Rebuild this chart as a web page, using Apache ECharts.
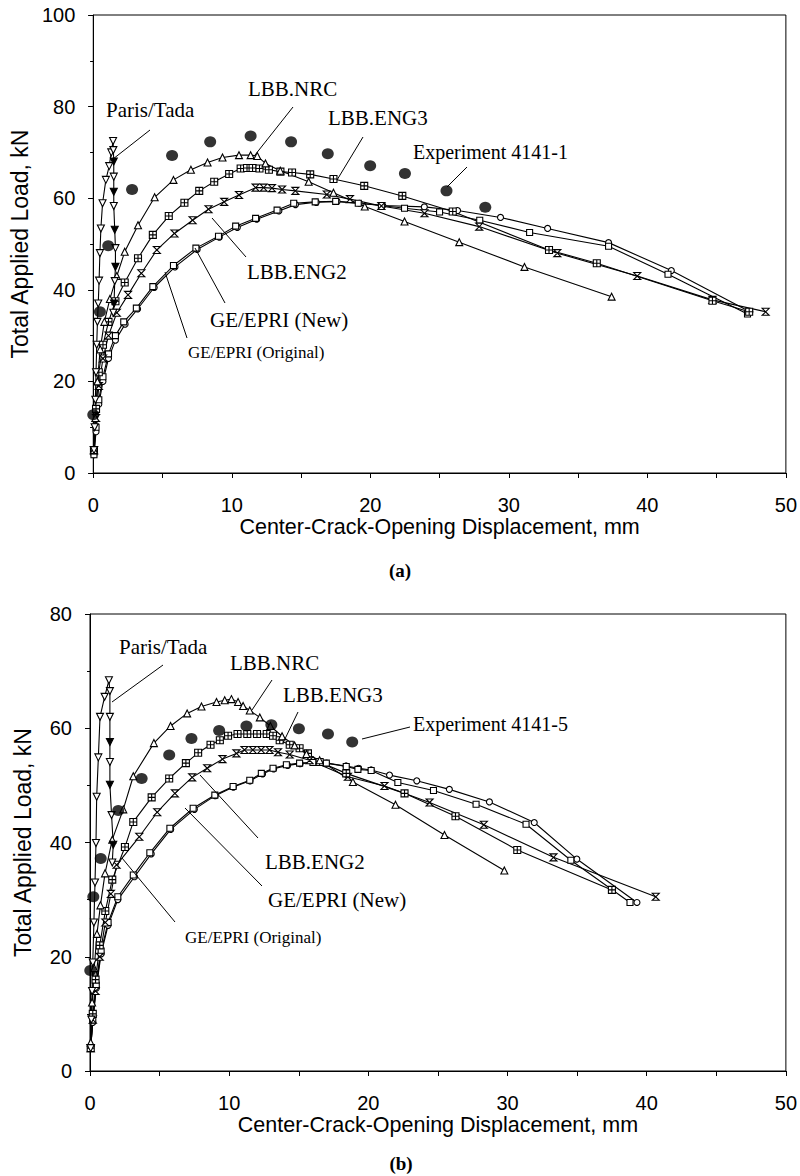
<!DOCTYPE html>
<html><head><meta charset="utf-8">
<script src="https://cdn.jsdelivr.net/npm/echarts@6/dist/echarts.min.js"></script>
<style>html,body{margin:0;padding:0;background:#fff}#c{width:800px;height:1176px}</style>
</head><body><div id="c"></div>
<script>
// ---------- DATA (x: COD mm, y: load kN) ----------
const xTickLabels = [0, 10, 20, 30, 40, 50];
const yTicksA = [0, 20, 40, 60, 80, 100];
const yTicksB = [0, 20, 40, 60, 80];

// Chart (a) - Experiment 4141-1
const expA = [[0.0,12.7],[0.48,35.2],[1.08,49.6],[2.8,61.9],[5.69,69.3],[8.44,72.3],[11.36,73.6],[14.28,72.3],[16.93,69.7],[19.99,67.1],[22.5,65.4],[25.5,61.6],[28.3,58.0]];
const parisA = [[0.05,5],[0.1,10],[0.15,16],[0.2,22],[0.25,28],[0.3,33],[0.36,37],[0.42,42],[0.48,48],[0.55,53.4],[0.67,58.9],[0.91,64],[1.15,67],[1.3,70],[1.43,72.5],[1.45,70.5],[1.48,68],[1.48,64.7],[1.48,61.4],[1.48,58.3],[1.55,53.1],[1.6,49.1],[1.6,45],[1.55,41.9],[1.5,37],[1.45,35]];
const nrcA = [[0.05,5],[0.15,12],[0.3,20],[0.5,27],[0.8,33],[1.2,38],[1.7,43],[2.27,48.3],[3.23,54.1],[4.43,60.2],[5.79,64.0],[7.05,66.2],[8.25,67.8],[9.33,68.9],[10.52,69.4],[11.36,69.4],[11.84,69.2],[12.43,67.6],[13.5,66.0],[15.55,63.6],[17.34,61.2],[19.6,58.2],[22.47,54.9],[26.42,50.4],[31.13,45.0],[37.42,38.5]];
const eng3A = [[0.05,5],[0.2,14],[0.4,22],[0.7,28],[1.1,33],[1.6,37.5],[2.27,41.6],[3.23,46.9],[4.3,52.0],[5.45,56.1],[6.58,59.0],[7.65,61.6],[8.73,63.6],[9.81,65.3],[10.64,66.5],[11.1,66.6],[11.5,66.6],[12.0,66.5],[12.68,66.2],[13.51,65.8],[14.35,65.6],[15.66,65.2],[17.34,64.2],[19.56,62.7],[22.31,60.5],[25.95,57.1],[32.9,48.7],[36.35,45.8],[44.7,37.6],[47.35,35.2]];
const eng2A = [[0.05,5],[0.2,12],[0.4,19],[0.7,25],[1.1,30],[1.7,35],[2.51,38.9],[3.47,43.6],[4.59,48.7],[5.86,52.3],[7.17,55.2],[8.32,57.6],[9.45,59.2],[10.52,60.7],[11.72,62.3],[12.3,62.3],[12.9,62.2],[13.63,61.9],[14.59,61.6],[16.86,60.8],[18.53,59.8],[20.8,58.3],[23.91,56.7],[27.86,53.8],[33.5,48.0],[39.27,43.0],[44.7,37.8],[48.54,35.2]];
const geNewA = [[0.05,4],[0.2,10],[0.4,16],[0.7,21],[1.1,26],[1.6,30],[2.2,33],[3.11,36.0],[4.3,40.7],[5.79,45.3],[7.41,49.1],[9.04,51.7],[10.28,53.9],[11.72,55.6],[13.27,57.4],[14.47,58.9],[16.02,59.2],[17.5,59.3],[19.13,58.9],[20.8,58.4],[22.47,57.8],[25.0,57.0],[27.9,55.2],[31.5,52.5],[37.2,49.5],[41.49,43.4],[47.23,34.7]];
const geOrigA = [[0.05,4],[0.2,9],[0.4,15],[0.7,20],[1.1,25],[1.6,29],[2.3,32.5],[3.2,35.8],[4.4,40.5],[5.9,45.0],[7.5,48.8],[9.1,51.5],[10.4,53.6],[11.8,55.4],[13.4,57.2],[14.6,58.6],[16.1,59.1],[17.6,59.3],[19.2,58.9],[20.9,58.4],[23.9,58.1],[26.3,57.3],[29.4,55.8],[32.8,53.4],[37.2,50.3],[41.73,44.2],[47.4,35.2]];

// Chart (b) - Experiment 4141-5
const expB = [[0.02,17.6],[0.24,30.5],[0.77,37.2],[2.03,45.6],[3.71,51.2],[5.69,55.3],[7.29,58.2],[9.28,59.6],[11.24,60.4],[13.03,60.6],[15.01,59.9],[17.1,59.0],[18.84,57.6]];
const parisB = [[0.05,4],[0.1,9],[0.15,14],[0.2,19],[0.28,26],[0.36,33],[0.43,39.9],[0.48,48.0],[0.6,54.9],[0.72,62.0],[1.05,65.5],[1.36,68.4],[1.43,66.5],[1.43,62.0],[1.43,57.6],[1.43,54.1],[1.43,50.1],[1.55,44.8],[1.67,39.6],[1.6,36.5]];
const nrcB = [[0.05,5],[0.15,12],[0.3,18],[0.5,24],[0.75,29],[1.08,34.6],[1.6,40.5],[2.39,45.8],[3.11,51.6],[4.59,57.4],[5.79,60.4],[6.98,62.6],[8.01,63.8],[9.09,64.6],[9.68,64.9],[10.16,65.1],[10.64,64.6],[11.0,63.9],[11.48,63.1],[12.2,61.9],[12.96,60.4],[13.8,58.6],[14.7,57.0],[15.55,55.5],[16.5,54.4],[18.89,50.6],[21.95,46.6],[25.47,41.3],[29.77,35.1]];
const eng3B = [[0.05,4],[0.2,10],[0.4,16],[0.7,22],[1.1,28],[1.6,33.5],[2.51,39.2],[3.11,43.6],[4.43,47.9],[5.69,51.2],[6.89,53.9],[7.77,55.7],[8.66,57.1],[9.33,57.9],[9.92,58.7],[10.6,59.0],[11.3,59.0],[12.0,59.0],[12.7,59.0],[13.15,58.7],[13.63,57.9],[14.35,57.1],[15.06,56.5],[15.66,55.6],[16.5,54.1],[18.41,52.1],[22.6,48.6],[26.26,44.6],[30.7,38.7],[37.5,31.7]];
const eng2B = [[0.05,4],[0.2,9],[0.4,14],[0.7,20],[1.1,26],[1.5,31],[1.91,36.1],[3.54,41.0],[4.83,45.3],[6.1,48.6],[7.34,51.4],[8.42,53.0],[9.52,54.6],[10.52,55.6],[11.1,56.2],[11.7,56.2],[12.3,56.2],[12.9,56.2],[13.51,55.8],[14.35,55.4],[15.78,54.4],[18.53,51.5],[21.16,49.9],[24.4,47.0],[28.3,43.1],[33.3,37.4],[40.65,30.5]];
const geNewB = [[0.05,4],[0.2,9],[0.45,15],[0.8,21],[1.3,26],[2.0,30.5],[3.11,34.3],[4.3,38.2],[5.74,42.5],[7.41,46.0],[8.97,48.3],[10.28,49.8],[11.48,50.9],[12.31,52.1],[13.15,53.0],[14.11,53.6],[15.06,53.9],[16.02,54.0],[16.98,53.9],[18.41,53.3],[19.25,52.8],[20.2,52.6],[22.12,50.5],[24.68,49.1],[27.74,46.7],[31.33,43.2],[34.55,36.9],[38.8,29.5]];
const geOrigB = [[0.05,4],[0.2,8.5],[0.45,14.5],[0.8,20.5],[1.3,25.5],[2.0,30],[3.2,34.0],[4.4,38.0],[5.8,42.3],[7.5,45.8],[9.0,48.2],[10.3,49.7],[11.5,50.8],[12.4,52.0],[13.2,52.9],[14.2,53.5],[15.1,53.8],[16.1,54.0],[17.0,53.9],[18.4,53.4],[19.3,53.0],[20.2,52.7],[21.52,51.8],[23.48,50.8],[25.82,49.3],[28.7,47.1],[31.92,43.5],[34.98,37.1],[39.3,29.5]];

// ---------- STYLE ----------
const SANS = '"Liberation Sans", Arial, Helvetica, sans-serif';
const SERIF = '"Liberation Serif", "Times New Roman", serif';
const SYM = {
  itri: 'path://M0,0L10,0L5,9Z',
  tri: 'path://M5,0L10,9L0,9Z',
  sqplus: 'path://M0,0H10V10H0Z M5,0V10 M0,5H10',
  hour: 'path://M0,0H10L0,10H10Z',
  sq: 'path://M0,0H10V10H0Z',
  circ: 'circle'
};

function lineSeries(name, data, sym, size, ai, altFillFrom) {
  const d = data.map((p, i) => {
    if (altFillFrom !== undefined && i > altFillFrom && i % 2 === 0) {
      return { value: p, itemStyle: { color: '#000' } };
    }
    return p;
  });
  return {
    name, type: 'line', data: d, xAxisIndex: ai, yAxisIndex: ai,
    symbol: sym, symbolSize: size, showAllSymbol: true, animation: false,
    lineStyle: { color: '#000', width: 1.1 },
    itemStyle: { color: '#fff', borderColor: '#000', borderWidth: 1.1 },
    z: 3
  };
}
function expSeries(name, data, ai) {
  return { name, type: 'scatter', data, xAxisIndex: ai, yAxisIndex: ai,
    symbol: 'circle', symbolSize: [12, 11], itemStyle: { color: '#000' }, animation: false, z: 4 };
}
function xAx(gi, main) {
  return {
    type: 'value', gridIndex: gi, min: 0, max: 50, interval: 10,
    axisLine: { show: main, lineStyle: { color: '#000', width: 1 } },
    axisTick: { show: true, inside: !main, length: 5, lineStyle: { color: '#000' } },
    minorTick: { show: true, splitNumber: 2, length: 5, lineStyle: { color: '#000' } },
    axisLabel: { show: main, fontFamily: SANS, fontSize: 20, color: '#000', margin: 22,
      formatter: v => xTickLabels.includes(v) ? String(v) : '' },
    splitLine: { show: false },
    name: main ? 'Center-Crack-Opening Displacement, mm' : '',
    nameLocation: 'middle', nameGap: 43,
    nameTextStyle: { fontFamily: SANS, fontSize: 21.5, color: '#000' }
  };
}
function yAx(gi, main, max, ticks) {
  return {
    type: 'value', gridIndex: gi, min: 0, max, interval: 20,
    axisLine: { show: main, lineStyle: { color: '#000', width: 1 } },
    axisTick: { show: true, inside: !main, length: 5, lineStyle: { color: '#000' } },
    minorTick: { show: true, splitNumber: 2, length: 3, lineStyle: { color: '#000' } },
    axisLabel: { show: main, fontFamily: SANS, fontSize: 20, color: '#000', margin: 18,
      formatter: v => ticks.includes(v) ? String(v) : '' },
    splitLine: { show: false },
    name: main ? 'Total Applied Load, kN' : '',
    nameLocation: 'middle', nameGap: 56,
    nameTextStyle: { fontFamily: SANS, fontSize: 23, color: '#000' }
  };
}

// annotation labels: [text, left x, center y, font size, leader x1,y1,x2,y2]
const annots = [
  ['Paris/Tada', 106, 110, 21, 150, 130, 113, 159],
  ['LBB.NRC', 248, 89, 21, 293, 107, 255, 155],
  ['LBB.ENG3', 328, 118, 21, 363, 137, 337, 180],
  ['Experiment 4141-1', 413, 152, 20, 467, 167, 447, 187],
  ['LBB.ENG2', 247, 272, 21, 246, 257, 212, 218],
  ['GE/EPRI (New)', 210, 320, 21, 225, 303, 195, 248],
  ['GE/EPRI (Original)', 188, 352, 17, 187, 338, 165, 272],
  ['Paris/Tada', 119, 647, 21, 163, 665, 112, 702],
  ['LBB.NRC', 230, 663, 21, 272, 680, 252, 710],
  ['LBB.ENG3', 283, 695, 21, 298, 712, 283, 743],
  ['Experiment 4141-5', 413, 724, 20, 410, 727, 362, 739],
  ['LBB.ENG2', 265, 862, 21, 258, 838, 200, 775],
  ['GE/EPRI (New)', 268, 900, 21, 262, 886, 185, 808],
  ['GE/EPRI (Original)', 185, 937, 17, 175, 922, 122, 858]
];
const graphics = [];
annots.forEach(a => {
  graphics.push({ type: 'line', shape: { x1: a[4], y1: a[5], x2: a[6], y2: a[7] }, style: { stroke: '#000', lineWidth: 1 }, z: 10 });
  graphics.push({ type: 'text', x: a[1], y: a[2], style: { text: a[0], font: a[3] + 'px ' + SERIF, fill: '#000', verticalAlign: 'middle', align: 'left' }, z: 10 });
});
graphics.push({ type: 'text', x: 400, y: 570, style: { text: '(a)', font: 'bold 19px ' + SERIF, fill: '#000', align: 'center', verticalAlign: 'middle' } });
graphics.push({ type: 'text', x: 401, y: 1163, style: { text: '(b)', font: 'bold 19px ' + SERIF, fill: '#000', align: 'center', verticalAlign: 'middle' } });

const chart = echarts.init(document.getElementById('c'), null, { renderer: 'svg', width: 800, height: 1176 });
chart.setOption({
  backgroundColor: '#fff',
  animation: false,
  grid: [
    { left: 90, top: 15, width: 697, height: 458, show: true, borderColor: '#000', borderWidth: 1, backgroundColor: 'transparent' },
    { left: 90, top: 614, width: 697, height: 457, show: true, borderColor: '#000', borderWidth: 1, backgroundColor: 'transparent' }
  ],
  xAxis: [xAx(0, true), xAx(0, false), xAx(1, true), xAx(1, false)],
  yAxis: [yAx(0, true, 100, yTicksA), yAx(0, false, 100, yTicksA), yAx(1, true, 80, yTicksB), yAx(1, false, 80, yTicksB)],
  series: [
    lineSeries('GE/EPRI (Original)', geOrigA, SYM.circ, 6, 0),
    lineSeries('GE/EPRI (New)', geNewA, SYM.sq, 6, 0),
    lineSeries('LBB.ENG2', eng2A, SYM.hour, 7, 0),
    lineSeries('LBB.ENG3', eng3A, SYM.sqplus, 7, 0),
    lineSeries('LBB.NRC', nrcA, SYM.tri, 7, 0),
    lineSeries('Paris/Tada', parisA, SYM.itri, 7, 0, 15),
    expSeries('Experiment 4141-1', expA, 0),
    lineSeries('GE/EPRI (Original)', geOrigB, SYM.circ, 6, 2),
    lineSeries('GE/EPRI (New)', geNewB, SYM.sq, 6, 2),
    lineSeries('LBB.ENG2', eng2B, SYM.hour, 7, 2),
    lineSeries('LBB.ENG3', eng3B, SYM.sqplus, 7, 2),
    lineSeries('LBB.NRC', nrcB, SYM.tri, 7, 2),
    lineSeries('Paris/Tada', parisB, SYM.itri, 7, 2, 12),
    expSeries('Experiment 4141-5', expB, 2)
  ],
  graphic: graphics
});
</script>
</body></html>
